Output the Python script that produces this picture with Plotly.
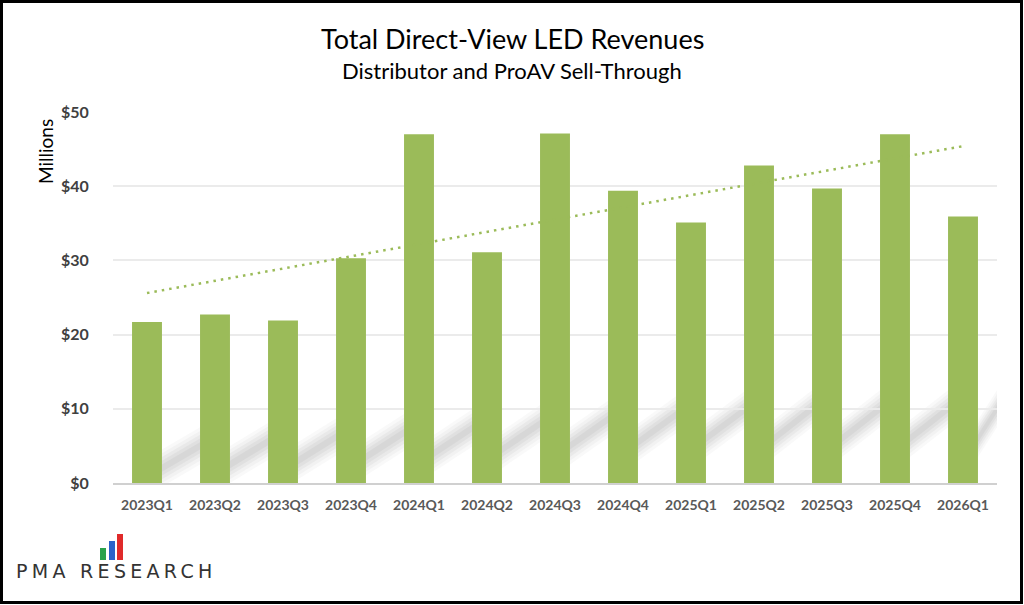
import plotly.graph_objects as go

# quarterly sell-through revenue, $ millions
quarters = ['2023Q1', '2023Q2', '2023Q3', '2023Q4', '2024Q1', '2024Q2', '2024Q3',
            '2024Q4', '2025Q1', '2025Q2', '2025Q3', '2025Q4', '2026Q1']
revenues = [21.7, 22.7, 21.9, 30.3, 47.0, 31.1, 47.1, 39.4, 35.1, 42.8, 39.7, 47.0, 35.9]

# linear trendline, read at its two ends
trend_x = [quarters[0], quarters[-1]]
trend_y = [25.6, 45.4]

green = '#9BBB59'
W, H = 1024, 605
L, R, T, B = 113, 27, 112, 122
pw, ph = W - L - R, H - T - B


def px_x(x):
    return (x - L) / pw


def px_y(y):
    return (H - B - y) / ph


fig = go.Figure()

fig.add_trace(go.Bar(x=quarters, y=revenues, marker=dict(color=green, line=dict(width=0)),
                     hoverinfo='x+y', showlegend=False))

fig.add_trace(go.Scatter(x=trend_x, y=trend_y, mode='lines',
                         line=dict(color=green, width=2.5, dash='2.5px,5px'),
                         hoverinfo='skip', showlegend=False))

shapes = []

# soft diagonal shadows between the bars (decoration)
for i in range(len(quarters)):
    lo = min(2.0 + 0.5 * i, 6.0)
    hi = min(5.0 + 0.6 * i, 10.0)
    x0 = i + 0.22
    x1 = i + 0.78 if i < len(quarters) - 1 else i + 0.5
    for th, op in [(5.0, 0.04), (4.0, 0.05), (3.0, 0.06), (2.0, 0.07), (1.0, 0.08)]:
        path = (f'M {x0},{lo - th / 2} L {x1},{hi - th / 2} '
                f'L {x1},{hi + th / 2} L {x0},{lo + th / 2} Z')
        shapes.append(dict(type='path', xref='x', yref='y', path=path,
                           fillcolor=f'rgba(110,110,110,{op})', line=dict(width=0),
                           layer='below'))

# logo bars
for (xa, xb, ytop, col) in [(100, 106, 548, '#2BA24C'), (109, 115, 541, '#2A62C9'),
                            (117, 123, 534, '#E02A2A')]:
    shapes.append(dict(type='rect', xref='paper', yref='paper',
                       x0=px_x(xa), x1=px_x(xb), y0=px_y(560), y1=px_y(ytop),
                       fillcolor=col, line=dict(width=0)))

# outer frame
shapes.append(dict(type='rect', xref='paper', yref='paper',
                   x0=px_x(1.5), x1=px_x(1021.5), y0=px_y(602.5), y1=px_y(1.5),
                   line=dict(color='black', width=3)))

annotations = [
    dict(text='Total Direct-View LED Revenues', x=px_x(512), y=px_y(38),
         font=dict(family='Lato', size=27, color='black')),
    dict(text='Distributor and ProAV Sell-Through', x=px_x(512), y=px_y(71),
         font=dict(family='Lato', size=22, color='black')),
    dict(text='Millions', x=px_x(45), y=px_y(152), textangle=-90,
         font=dict(family='Lato', size=19, color='black')),
    dict(text='<span style="letter-spacing:4.3px">PMA RESEARCH</span>',
         x=px_x(14), y=px_y(571), xanchor='left',
         font=dict(family='DejaVu Sans', size=19, color='#333333')),
]
for a in annotations:
    a.update(xref='paper', yref='paper', showarrow=False)
    a.setdefault('xanchor', 'center')
    a.setdefault('yanchor', 'middle')

fig.update_layout(
    width=W, height=H,
    margin=dict(l=L, r=R, t=T, b=B),
    paper_bgcolor='white', plot_bgcolor='white',
    bargap=0.56,
    shapes=shapes,
    annotations=annotations,
    xaxis=dict(type='category', showgrid=False, showline=True, linecolor='#D0D0D0',
               linewidth=1.5, ticks='outside', ticklen=8, tickcolor='rgba(0,0,0,0)',
               tickfont=dict(family='Lato', size=14, color='#595959', weight='bold'),
               fixedrange=True),
    yaxis=dict(range=[0, 50], dtick=10, tickprefix='$', showgrid=True,
               gridcolor='#EBEBEB', gridwidth=1.5, zeroline=False, showline=False,
               ticks='outside', ticklen=20, tickcolor='rgba(0,0,0,0)',
               tickfont=dict(family='Lato', size=16, color='#404040', weight='bold'),
               fixedrange=True),
)

fig.write_html('out.html', config={'displayModeBar': False},
               post_script="document.body.style.margin='0';")
